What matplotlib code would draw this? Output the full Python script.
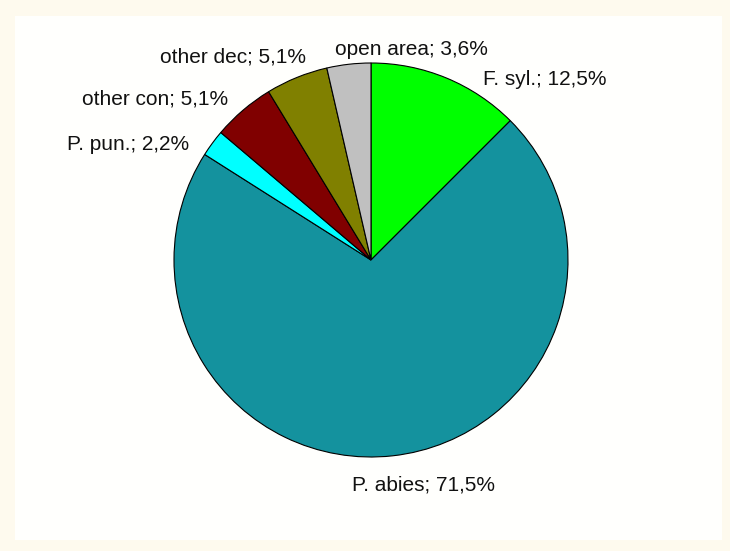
import matplotlib.pyplot as plt
from matplotlib.patches import Rectangle

# Stand composition (share of area, %)
species = ["F. syl.", "P. abies", "P. pun.", "other con", "other dec", "open area"]
shares = [12.5, 71.5, 2.2, 5.1, 5.1, 3.6]
colors = ["#00ff00", "#14929e", "#00ffff", "#800000", "#808000", "#c0c0c0"]

# label anchors (data units, pie radius = 1), left aligned
label_pos = [(0.569, 0.914), (-0.096, -1.142), (-1.543, 0.584),
             (-1.467, 0.817), (-1.071, 1.030), (-0.183, 1.071)]

plt.rcParams['font.family'] = ['Liberation Sans', 'DejaVu Sans']

fig = plt.figure(figsize=(7.3, 5.51), dpi=100)
fig.patch.set_facecolor('#fefaee')
fig.patches.append(Rectangle((15 / 730, 11 / 551), 707 / 730, 524 / 551,
                             transform=fig.transFigure, facecolor='#fffffd',
                             edgecolor='none', zorder=-1))

ax = fig.add_axes([0, 0, 1, 1])
ax.set_facecolor('none')
ax.pie(shares, colors=colors, startangle=90, counterclock=False, radius=1,
       wedgeprops=dict(edgecolor='black', linewidth=0.8))

for name, val, (x, y) in zip(species, shares, label_pos):
    txt = f"{name}; {str(val).replace('.', ',')}%"
    ax.text(x, y, txt, ha='left', va='center', fontsize=15, color='#111111')

ax.set_xlim(-371 / 197, (730 - 371) / 197)
ax.set_ylim(-(551 - 260) / 197, 260 / 197)
ax.set_aspect('equal')
ax.axis('off')

fig.savefig('out.png', dpi=100, facecolor=fig.get_facecolor())
